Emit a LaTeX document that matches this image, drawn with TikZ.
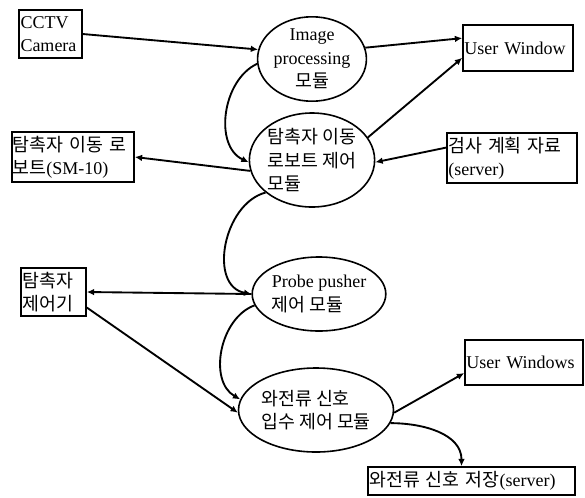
\documentclass[tikz,border=0pt]{standalone}
\usepackage{fontspec}
\setmainfont{Liberation Serif}
\newfontfamily\kr[Scale=1.02]{Noto Sans CJK KR}
\usetikzlibrary{shapes.geometric,arrows.meta}

\begin{document}
\begin{tikzpicture}[x=0.75pt,y=-0.75pt,line width=1.4pt,
	>={Latex[length=5.5pt,width=5pt]},
	every node/.style={font=\fontsize{13.5}{17.5}\selectfont},
	mod/.style={draw,ellipse,inner sep=0pt,line width=1.2pt},
	box/.style={draw,rectangle,inner sep=1pt,align=left,line width=1.2pt}]
	\useasboundingbox (0,0) rectangle (585,497);

	\node(cctv)[box,text width=45pt,minimum height=36pt] at (50.5,34){CCTV\\Camera};
	\node(img)[mod,align=center,minimum width=73.5pt,minimum height=58.5pt] at (312,59){Image\\processing\\{\kr 모듈}};
	\node(uw)[box,text width=80.5pt,minimum height=34.5pt] at (518,48){User Window};
	\node(sm)[box,inner sep=0.5pt,text width=90.5pt,minimum height=37.5pt] at (73,157){{\kr 탐촉자 이동 로}\\{\kr 보트}(SM-10)};
	\node(rob)[mod,align=left,minimum width=87pt,minimum height=70.5pt] at (312,160){{\kr 탐촉자 이동}\\{\kr 로보트 제어}\\{\kr 모듈}};
	\node(plan)[box,text width=95.5pt,minimum height=37.5pt] at (512,158){{\kr 검사 계획 자료}\\(server)};
	\node(probe)[mod,align=left,minimum width=88.5pt,minimum height=55.5pt] at (319,294){Probe pusher\\{\kr 제어 모듈}};
	\node(ctl)[box,text width=46.75pt,minimum height=36pt] at (53.5,292){{\kr 탐촉자}\\{\kr 제어기}};
	\node(wave)[mod,align=left,minimum width=99pt,minimum height=63pt] at (316,410){{\kr 와전류 신호}\\{\kr 입수 제어 모듈}};
	\node(uws)[box,text width=86.5pt,minimum height=33.75pt] at (524,362.5){User Windows};
	\node(store)[box,text width=153.25pt,minimum height=21pt] at (471.5,481){{\kr 와전류 신호 저장}(server)};

	\path[->]	(cctv.east) edge (img.170)
			(img.12) edge (uw.170)
			(img.185) edge[out=205,in=155] (rob.182)
			(rob.190) edge (sm.east)
			(rob.22) edge (uw.190)
			(plan.171) edge (rob.358)
			(rob.215) edge[out=195,in=170,looseness=1.1] (probe.west)
			(probe.west) edge (ctl.east)
			(ctl.335) edge (wave.182)
			(probe.190) edge[out=200,in=150] (wave.172)
			(wave.358) edge (uws.190)
			(wave.350) edge[out=0,in=90] (store.124);
\end{tikzpicture}
\end{document}
